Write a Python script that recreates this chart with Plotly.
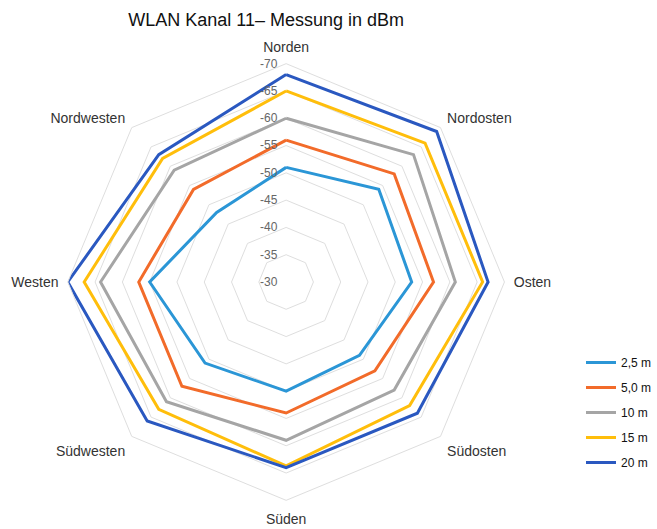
import plotly.graph_objects as go

# Directions (clockwise from north)
directions = ["Norden", "Nordosten", "Osten", "Südosten",
              "Süden", "Südwesten", "Westen", "Nordwesten"]

# Signal strength in dBm per distance
rssi_2_5m = [-51, -54, -53, -49, -50, -51, -55, -48]
rssi_5_0m = [-56, -58, -57, -53, -54, -57, -57, -54]
rssi_10m = [-60, -63, -61, -58, -59, -61, -64, -59]
rssi_15m = [-65, -66, -66, -62, -63.7, -63, -67, -62]
rssi_20m = [-68, -69, -67, -64, -64, -66, -70, -63]

series_names = ["2,5 m", "5,0 m", "10 m", "15 m", "20 m"]
series_values = [rssi_2_5m, rssi_5_0m, rssi_10m, rssi_15m, rssi_20m]
series_colors = ["#2B96D6", "#F26B2A", "#A5A5A5", "#FFBE0B", "#2A58C0"]

radial_ticks = [-30, -35, -40, -45, -50, -55, -60, -65, -70]

fig = go.Figure()
for i, (name, vals, col) in enumerate(zip(series_names, series_values, series_colors)):
    fig.add_trace(go.Scatterpolar(
        r=vals + vals[:1],
        theta=directions + directions[:1],
        mode="lines",
        name=name,
        legendgroup=f"g{i}",
        line=dict(color=col, width=3),
    ))

W, H = 657, 529
cx, cy, R = 287, 282, 219

fig.update_layout(
    width=W, height=H,
    margin=dict(l=0, r=0, t=0, b=0),
    paper_bgcolor="white",
    plot_bgcolor="white",
    font=dict(family="Liberation Sans, Arial, sans-serif", color="#333333"),
    title=dict(
        text="WLAN Kanal 11– Messung in dBm",
        x=267 / W, xanchor="center", xref="paper",
        y=1 - 20 / H, yanchor="middle", yref="container",
        font=dict(size=18, color="#111111"),
    ),
    polar=dict(
        domain=dict(x=[(cx - R) / W, (cx + R) / W],
                    y=[1 - (cy + R) / H, 1 - (cy - R) / H]),
        bgcolor="white",
        gridshape="linear",
        radialaxis=dict(
            range=[-30, -70],
            tickvals=radial_ticks,
            ticktext=[str(t) for t in radial_ticks],
            angle=90,
            tickangle=90,
            side="counterclockwise",
            showline=False,
            ticks="outside",
            ticklen=4,
            tickcolor="rgba(0,0,0,0)",
            gridcolor="#DEDEDE",
            gridwidth=1,
            tickfont=dict(size=12, color="#666666"),
        ),
        angularaxis=dict(
            direction="clockwise",
            rotation=90,
            showgrid=False,
            showline=True,
            linecolor="#DEDEDE",
            linewidth=1,
            ticks="outside",
            ticklen=6,
            tickcolor="rgba(0,0,0,0)",
            tickfont=dict(size=14, color="#333333"),
        ),
    ),
    legend=dict(
        x=583 / W, xanchor="left",
        y=1 - 348 / H, yanchor="top",
        traceorder="grouped",
        tracegroupgap=6,
        font=dict(size=12, color="#111111"),
        bgcolor="rgba(0,0,0,0)",
    ),
)

fig.write_html("out.html")
